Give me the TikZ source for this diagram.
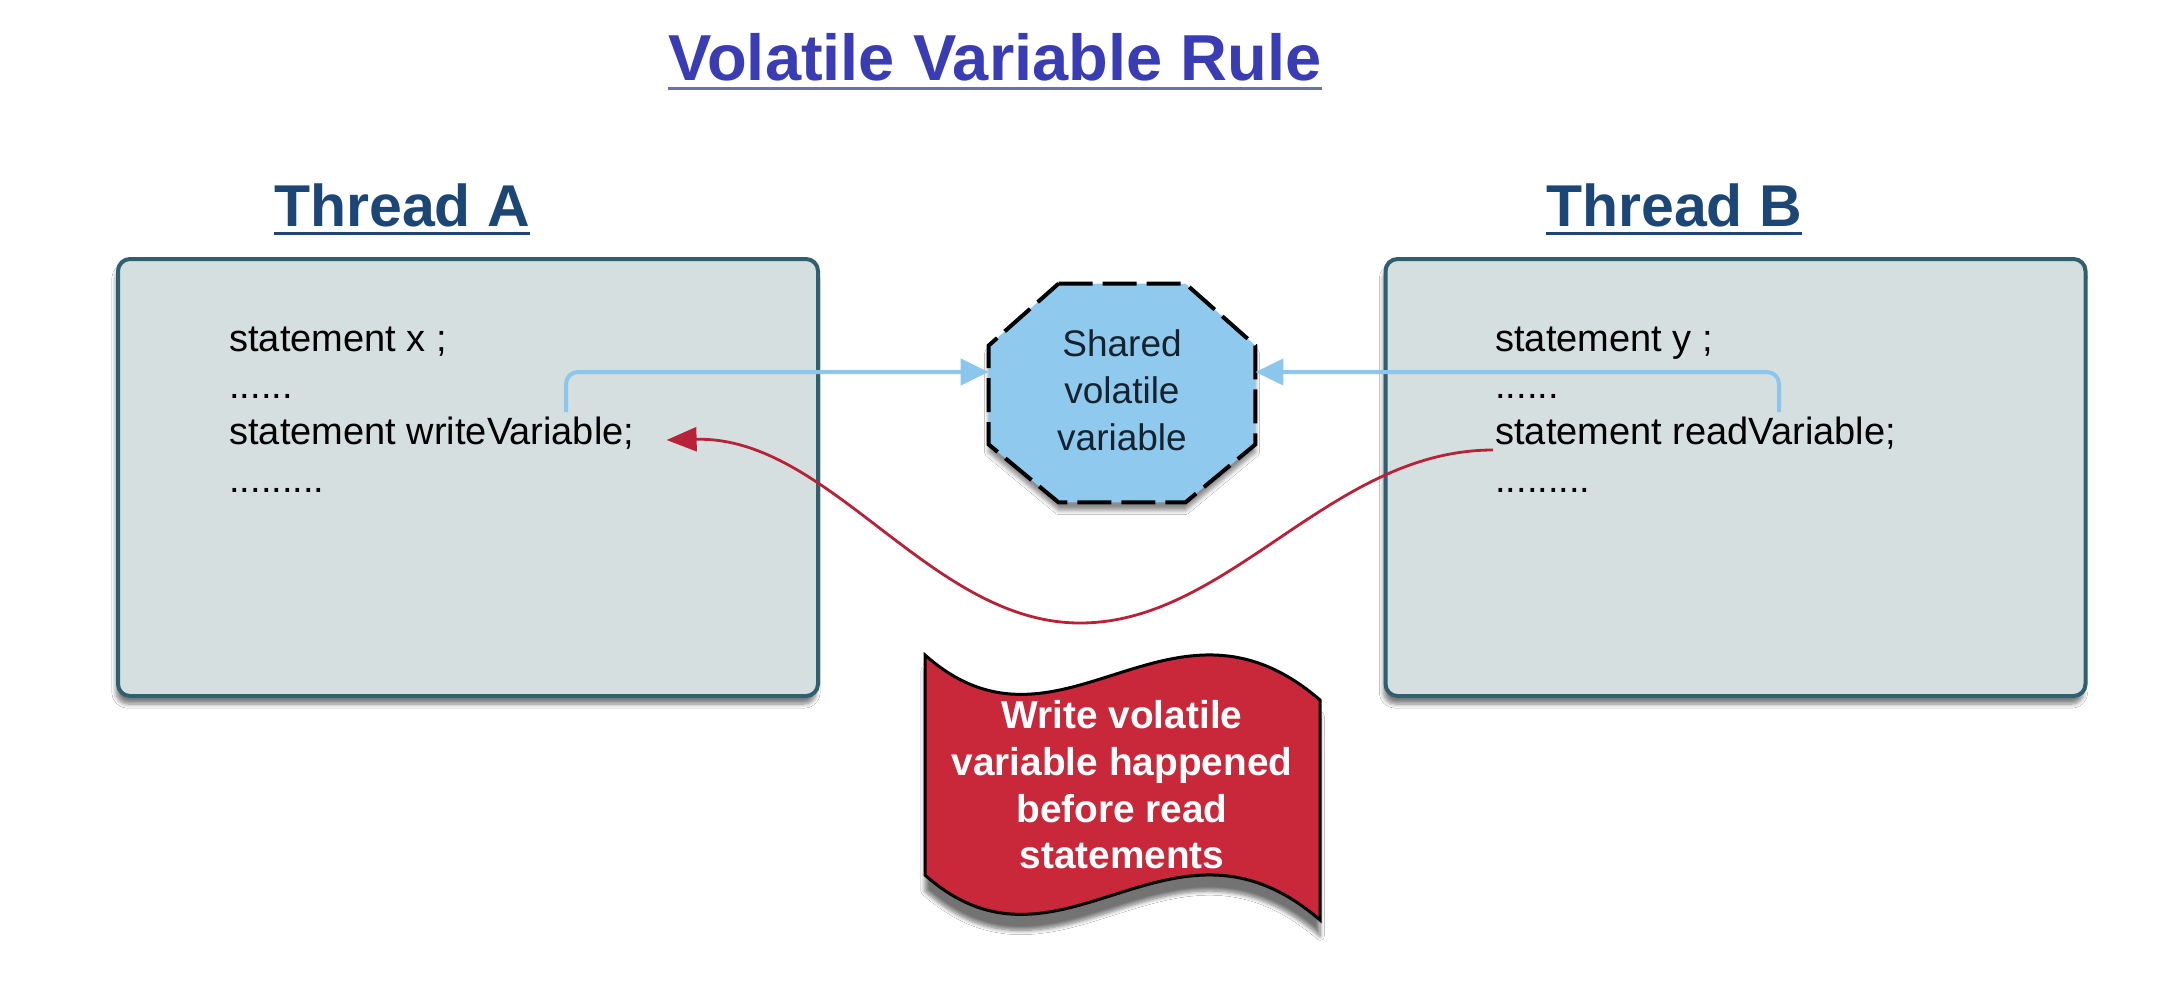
\documentclass[tikz,border=0pt]{standalone}
\usepackage{fontspec}
\setmainfont{Liberation Sans}
\usetikzlibrary{arrows.meta,shadows.blur,calc}
\definecolor{titleblue}{HTML}{3A3CB4}
\definecolor{titleline}{HTML}{6A72A8}
\definecolor{threadblue}{HTML}{1B4676}
\definecolor{boxfill}{HTML}{D6DFE0}
\definecolor{boxline}{HTML}{2E6070}
\definecolor{octfill}{HTML}{8FC9EE}
\definecolor{octtext}{HTML}{16222E}
\definecolor{arrowblue}{HTML}{8CC6EC}
\definecolor{curvered}{HTML}{B82238}
\definecolor{bannerred}{HTML}{C8283A}
\tikzset{
  threadbox/.style={draw=boxline, line width=2pt, fill=boxfill, rounded corners=6pt,
    minimum width=350pt, minimum height=218.5pt,
    blur shadow={shadow xshift=-1pt, shadow yshift=-4pt, shadow blur steps=6, shadow opacity=50}},
  stmt/.style={font=\fontsize{19}{23}\selectfont, text=black, inner sep=0pt, anchor=base west},
  threadtitle/.style={font=\fontsize{29.5}{35}\selectfont\bfseries, text=threadblue, inner sep=0pt, anchor=base},
  bluearrow/.style={draw=arrowblue, line width=2pt, rounded corners=6pt,
    -{Triangle[length=14pt,width=13pt]}},
  redarrow/.style={draw=curvered, line width=1.4pt, -{Triangle[length=15pt,width=12pt]}},
  octshape/.style={draw=black, line width=2pt, fill=octfill, dash pattern=on 17pt off 5pt,
    blur shadow={shadow xshift=0pt, shadow yshift=-4pt, shadow blur steps=5, shadow opacity=45}},
}
\begin{document}
\begin{tikzpicture}[x=0.5pt,y=-0.5pt]
\useasboundingbox[fill=white] (0,0) rectangle (2174,1002);

% title
\node[anchor=base, inner sep=0pt, font=\fontsize{32.5}{39}\selectfont\bfseries, text=titleblue] (title) at (995,80) {Volatile Variable Rule};
\draw[titleline, line width=1.5pt] ($(title.base west)+(0,8)$) -- ($(title.base east)+(0,8)$);

% thread titles
\node[threadtitle] (tA) at (402,226) {Thread A};
\draw[threadblue, line width=1.5pt] ($(tA.base west)+(0,7)$) -- ($(tA.base east)+(0,7)$);
\node[threadtitle] (tB) at (1674,226) {Thread B};
\draw[threadblue, line width=1.5pt] ($(tB.base west)+(0,7)$) -- ($(tB.base east)+(0,7)$);

% thread boxes
\node[threadbox] (boxA) at (468,477.5) {};
\node[threadbox] (boxB) at (1735.5,477.5) {};

% statements A
\node[stmt] (a1) at (229,351) {statement x ;};
\node[stmt] (a2) at (229,398) {......};
\node[stmt] (a3) at (229,444) {statement writeVariable;};
\node[stmt] (a4) at (229,492) {.........};
% statements B
\node[stmt] (b1) at (1495,351) {statement y ;};
\node[stmt] (b2) at (1495,398) {......};
\node[stmt] (b3) at (1495,444) {statement readVariable;};
\node[stmt] (b4) at (1495,492) {.........};

% shared volatile variable
\node[minimum width=133pt, minimum height=109pt, inner sep=0pt] (sv) at (1122,393) {};
\path[octshape] ($(sv.north west)+(70,0)$) -- ($(sv.north east)+(-70,0)$) -- ($(sv.north east)+(0,62)$)
  -- ($(sv.south east)+(0,-58)$) -- ($(sv.south east)+(-70,0)$) -- ($(sv.south west)+(70,0)$)
  -- ($(sv.south west)+(0,-58)$) -- ($(sv.north west)+(0,62)$) -- cycle;
\node[align=center, font=\fontsize{18.5}{23.5}\selectfont, text=octtext] (svt) at (1122,390) {Shared\\volatile\\variable};

% blue connectors
\coordinate (wA) at (566,412);
\coordinate (rB) at (1779,412);
\draw[bluearrow] (wA) |- ($(sv.west)+(0,-21)$);
\draw[bluearrow] (rB) |- ($(sv.east)+(0,-21)$);

% red curve
\coordinate (rs) at ($(b3.base west)+(-2,6)$);
\coordinate (rt) at ($(a3.base east)+(32,-4)$);
\draw[redarrow] (rs) .. controls (1330,450) and (1230,623) .. (1080,623)
  .. controls (930,623) and (830,436) .. (rt);

% banner
\path[fill=bannerred, draw=black, line width=1.5pt,
  blur shadow={shadow xshift=0pt, shadow yshift=-8pt, shadow blur steps=8, shadow opacity=55}]
  (925,655) .. controls (1060,775) and (1170,570) .. (1320,700)
  -- (1320,920) .. controls (1170,790) and (1060,995) .. (925,875) -- cycle;
\node[align=center, font=\fontsize{19.4}{23.3}\selectfont\bfseries, text=white] (banner) at (1122,785)
  {Write volatile\\variable happened\\before read\\statements};
\end{tikzpicture}
\end{document}
